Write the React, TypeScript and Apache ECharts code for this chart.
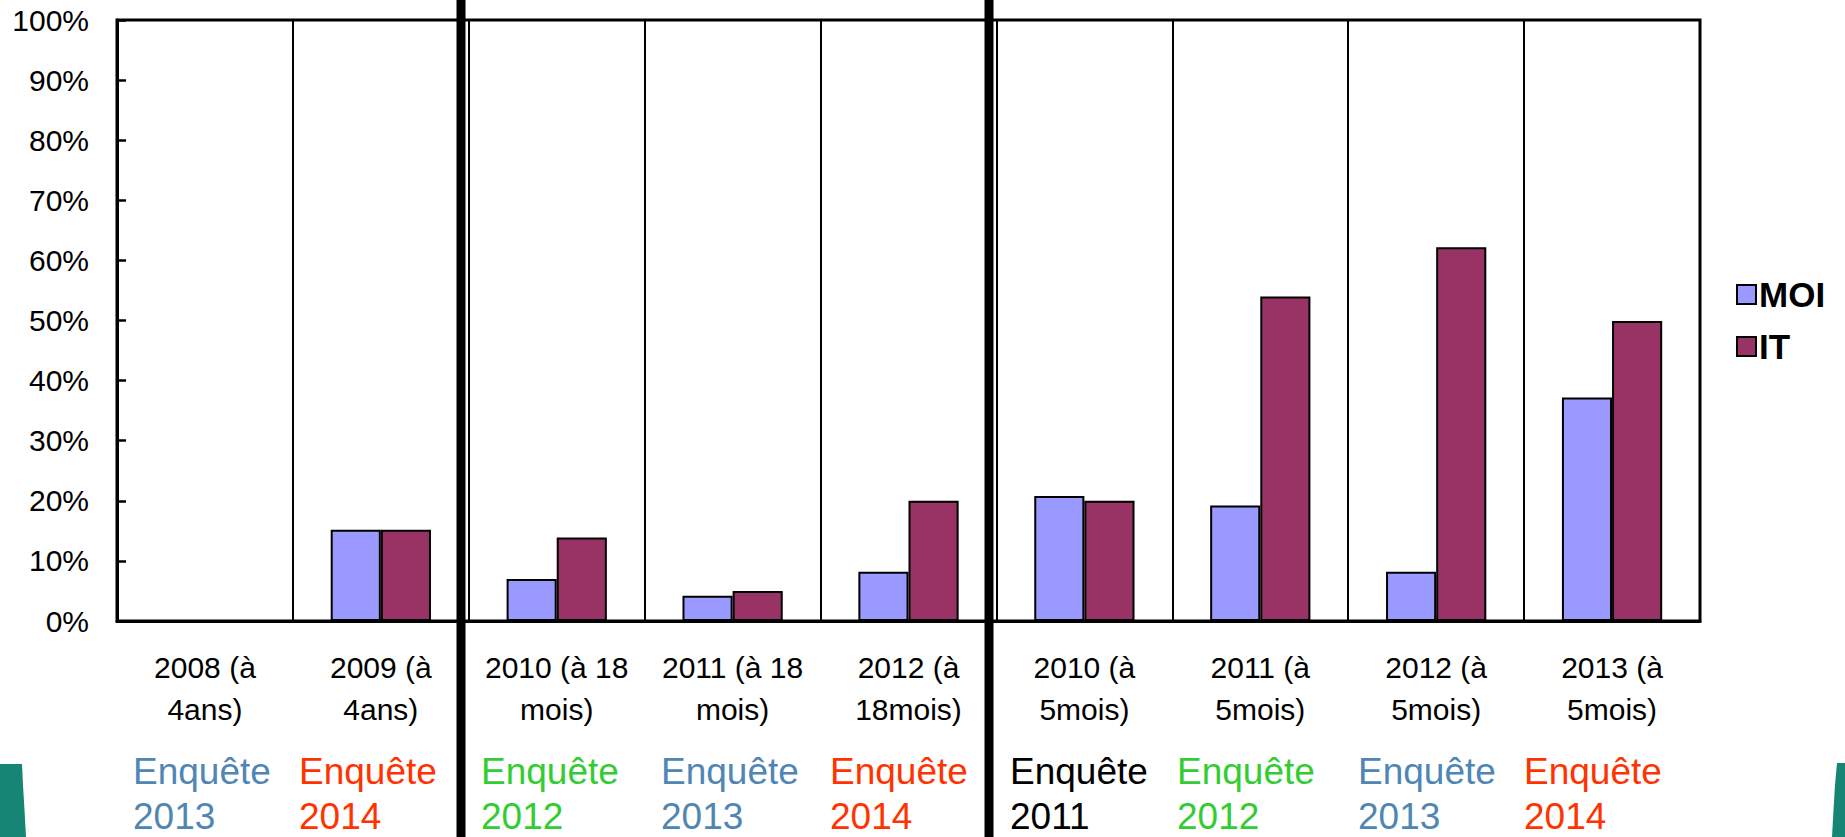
import React, { useEffect, useRef } from "react";
import * as echarts from "echarts";

const categories = [
  "2008 (à\n4ans)",
  "2009 (à\n4ans)",
  "2010 (à 18\nmois)",
  "2011 (à 18\nmois)",
  "2012 (à\n18mois)",
  "2010 (à\n5mois)",
  "2011 (à\n5mois)",
  "2012 (à\n5mois)",
  "2013 (à\n5mois)",
];
const moiValues = [0, 15.2, 7.0, 4.2, 8.2, 20.8, 19.2, 8.2, 37.2];
const itValues = [0, 15.2, 13.9, 5.0, 20.0, 20.0, 54.0, 62.2, 49.9];
const surveyYears = ["2013", "2014", "2012", "2013", "2014", "2011", "2012", "2013", "2014"];
const surveyColors: Record<string, string> = {
  "2011": "#000000",
  "2012": "#33CC33",
  "2013": "#4F86B3",
  "2014": "#FF3300",
};
const surveyX = [133, 299, 481, 661, 830, 1010, 1177, 1358, 1524];

const FONT = "'Liberation Sans', Arial, sans-serif";

export default function App() {
  const ref = useRef<HTMLDivElement>(null);
  useEffect(() => {
    document.body.style.margin = "0";
    if (!ref.current) return;
    const chart = echarts.init(ref.current, undefined, { renderer: "svg" });
    const surveyTexts = surveyYears.map((y, i) => ({
      type: "text",
      left: surveyX[i],
      top: 749,
      z: 10,
      style: {
        text: "Enquête\n" + y,
        fill: surveyColors[y],
        font: `37px ${FONT}`,
        lineHeight: 45,
      },
    }));
    chart.setOption({
      animation: false,
      backgroundColor: "#ffffff",
      textStyle: { fontFamily: FONT },
      grid: {
        left: 117,
        right: 145,
        top: 20,
        bottom: 216,
        show: true,
        borderColor: "#000",
        borderWidth: 3,
        backgroundColor: "transparent",
      },
      legend: {
        data: ["MOI", "IT"],
        orient: "vertical",
        left: 1736,
        top: 276,
        padding: 0,
        itemWidth: 19,
        itemHeight: 19,
        itemGap: 15,
        icon: "rect",
        textStyle: {
          fontSize: 35,
          lineHeight: 37,
          fontWeight: "bold",
          color: "#000",
          fontFamily: FONT,
          padding: [0, 0, 0, -2],
        },
      },
      xAxis: {
        type: "category",
        data: categories,
        axisLine: { lineStyle: { color: "#000", width: 3 } },
        axisTick: { show: true, inside: true, length: 6, lineStyle: { color: "#000", width: 2 } },
        splitLine: { show: true, lineStyle: { color: "#000", width: 2 } },
        axisLabel: {
          interval: 0,
          margin: 25,
          fontSize: 30,
          lineHeight: 42,
          color: "#000",
          fontFamily: FONT,
        },
      },
      yAxis: {
        type: "value",
        min: 0,
        max: 100,
        interval: 10,
        axisLine: { show: true, lineStyle: { color: "#000", width: 3 } },
        axisTick: { show: true, inside: true, length: 9, lineStyle: { color: "#000", width: 2.5 } },
        splitLine: { show: false },
        axisLabel: {
          formatter: "{value}%",
          margin: 28,
          fontSize: 30,
          color: "#000",
          fontFamily: FONT,
        },
      },
      series: [
        {
          name: "MOI",
          type: "bar",
          data: moiValues,
          barWidth: "28.5%",
          barGap: "0%",
          itemStyle: { color: "#9999FF", borderColor: "#000", borderWidth: 2 },
        },
        {
          name: "IT",
          type: "bar",
          data: itValues,
          barWidth: "28.5%",
          barGap: "0%",
          itemStyle: { color: "#993366", borderColor: "#000", borderWidth: 2 },
        },
      ],
      graphic: [
        {
          type: "line",
          z: 20,
          shape: { x1: 461, y1: 0, x2: 461, y2: 837 },
          style: { stroke: "#000", lineWidth: 9 },
        },
        {
          type: "line",
          z: 20,
          shape: { x1: 989, y1: 0, x2: 989, y2: 837 },
          style: { stroke: "#000", lineWidth: 9 },
        },
        {
          type: "polygon",
          z: 5,
          shape: {
            points: [
              [0, 764],
              [22, 764],
              [23, 785],
              [24.5, 810],
              [26, 837],
              [0, 837],
            ],
          },
          style: { fill: "#168573" },
        },
        {
          type: "polygon",
          z: 5,
          shape: {
            points: [
              [1845, 763],
              [1837, 763],
              [1835, 785],
              [1833.5, 810],
              [1832, 837],
              [1845, 837],
            ],
          },
          style: { fill: "#168573" },
        },
        ...surveyTexts,
      ],
    });
    return () => chart.dispose();
  }, []);
  return <div ref={ref} style={{ width: 1845, height: 837 }} />;
}
